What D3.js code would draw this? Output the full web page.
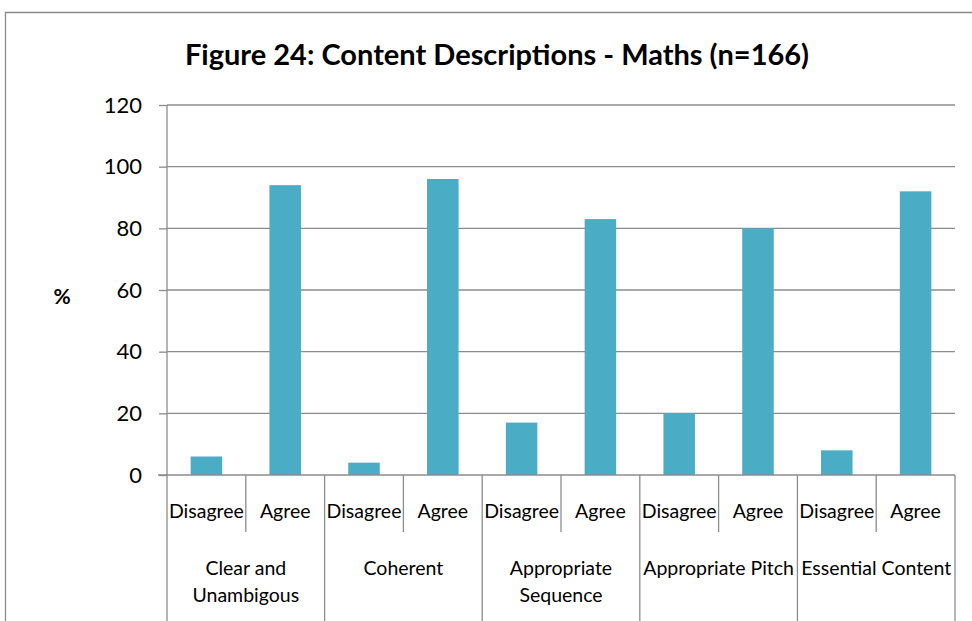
<!DOCTYPE html>
<html>
<head>
<meta charset="utf-8">
<script src="https://cdn.jsdelivr.net/npm/d3@7"></script>
<style>
  body { margin: 0; background: #fff; }
  svg text { font-family: Lato, "Open Sans", sans-serif; fill: #000; }
</style>
</head>
<body>
<div id="chart"></div>
<script>
// Chart data
var groups = ["Clear and|Unambigous", "Coherent", "Appropriate|Sequence", "Appropriate Pitch", "Essential Content"];
var responses = ["Disagree", "Agree"];
var disagreeValues = [6, 4, 17, 20, 8];
var agreeValues = [94, 96, 83, 80, 92];
var yTicks = [0, 20, 40, 60, 80, 100, 120];

var svgWidth = 972;
var svgHeight = 621;

var margin = { top: 105, right: 17, bottom: 146, left: 167 };
var width = svgWidth - margin.left - margin.right;
var height = svgHeight - margin.top - margin.bottom;

var svg = d3.select("#chart")
  .append("svg")
  .attr("width", svgWidth)
  .attr("height", svgHeight);

// Outer chart border
svg.append("path")
  .attr("d", "M5.5,621 V12.5 H972")
  .attr("fill", "none")
  .attr("stroke", "#8a8a8a")
  .attr("stroke-width", 1.3);

svg.append("text")
  .attr("x", 497)
  .attr("y", 65)
  .attr("text-anchor", "middle")
  .attr("font-size", "29px")
  .attr("font-weight", "bold")
  .text("Figure 24: Content Descriptions - Maths (n=166)");

var chartGroup = svg.append("g")
  .attr("transform", `translate(${margin.left}, ${margin.top})`);

// Flatten into rows
var rows = [];
groups.forEach(function(g, i) {
  rows.push({ group: g, response: "Disagree", value: disagreeValues[i] });
  rows.push({ group: g, response: "Agree", value: agreeValues[i] });
});

var xGroup = d3.scaleBand().domain(groups).range([0, width]);
var xSub = d3.scaleBand().domain(responses).range([0, xGroup.bandwidth()])
  .paddingInner(0.6).paddingOuter(0.3);
var yLinearScale = d3.scaleLinear().domain([0, 120]).range([height, 0]);

// Gridlines
chartGroup.selectAll(".grid")
  .data(yTicks.slice(1))
  .enter()
  .append("line")
  .attr("x1", 0)
  .attr("x2", width)
  .attr("y1", function(d) { return yLinearScale(d); })
  .attr("y2", function(d) { return yLinearScale(d); })
  .attr("stroke", "#8c8c8c")
  .attr("stroke-width", 1.3);

// Y axis
var leftAxis = d3.axisLeft(yLinearScale).tickValues(yTicks).tickSize(8).tickPadding(17);
var yAxis = chartGroup.append("g").call(leftAxis);
yAxis.selectAll("path, line").attr("stroke", "#8c8c8c").attr("stroke-width", 1.3);
yAxis.select(".domain").attr("d", "M0," + height + "V0");
yAxis.selectAll("text")
  .attr("font-size", "22px")
  .style("font-family", "Lato, 'Open Sans', sans-serif");

// Bars
chartGroup.selectAll("rect")
  .data(rows)
  .enter()
  .append("rect")
  .attr("x", function(d) { return xGroup(d.group) + xSub(d.response); })
  .attr("y", function(d) { return yLinearScale(d.value); })
  .attr("width", xSub.bandwidth())
  .attr("height", function(d) { return height - yLinearScale(d.value); })
  .attr("fill", "#4BACC6");

// X axis baseline
chartGroup.append("line")
  .attr("x1", -9).attr("x2", width)
  .attr("y1", height).attr("y2", height)
  .attr("stroke", "#8c8c8c")
  .attr("stroke-width", 1.3);

// Sub category dividers and labels
var subBoundaries = [];
groups.forEach(function(g) {
  subBoundaries.push(xGroup(g) + xGroup.bandwidth() / 2);
});
chartGroup.selectAll(".subdiv")
  .data(subBoundaries)
  .enter()
  .append("line")
  .attr("x1", function(d) { return d; })
  .attr("x2", function(d) { return d; })
  .attr("y1", height)
  .attr("y2", height + 57)
  .attr("stroke", "#8c8c8c")
  .attr("stroke-width", 1.3);

var groupBoundaries = groups.map(function(g) { return xGroup(g); }).concat([width]);
chartGroup.selectAll(".groupdiv")
  .data(groupBoundaries)
  .enter()
  .append("line")
  .attr("x1", function(d) { return d; })
  .attr("x2", function(d) { return d; })
  .attr("y1", height)
  .attr("y2", svgHeight - margin.top)
  .attr("stroke", "#8c8c8c")
  .attr("stroke-width", 1.3);

chartGroup.selectAll(".sublabel")
  .data(rows)
  .enter()
  .append("text")
  .attr("x", function(d) { return xGroup(d.group) + xSub(d.response) + xSub.bandwidth() / 2; })
  .attr("y", height + 43)
  .attr("text-anchor", "middle")
  .attr("font-size", "19.5px")
  .text(function(d) { return d.response; });

// Group labels
groups.forEach(function(g) {
  var lines = g.split("|");
  var t = chartGroup.append("text")
    .attr("x", xGroup(g) + xGroup.bandwidth() / 2)
    .attr("y", height + 100)
    .attr("text-anchor", "middle")
    .attr("font-size", "19.5px");
  lines.forEach(function(l, i) {
    t.append("tspan")
      .attr("x", xGroup(g) + xGroup.bandwidth() / 2)
      .attr("dy", i === 0 ? 0 : 27)
      .text(l);
  });
});

// Y axis label
svg.append("text")
  .attr("x", 62)
  .attr("y", 304)
  .attr("text-anchor", "middle")
  .attr("font-size", "21px")
  .attr("font-weight", "bold")
  .text("%");
</script>
</body>
</html>
